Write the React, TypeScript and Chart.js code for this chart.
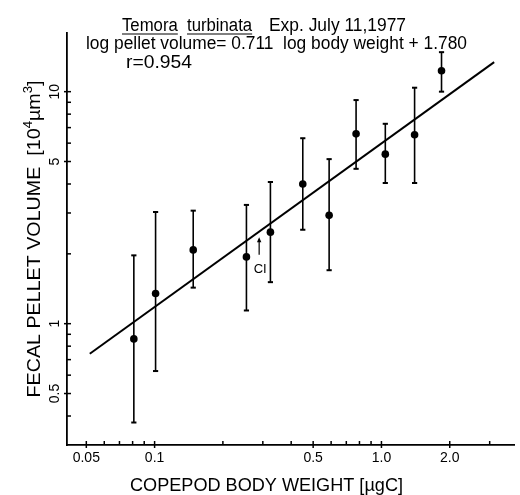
import React, { useEffect, useRef } from 'react';
import { Chart, registerables } from 'chart.js';

Chart.register(...registerables);

// ---- data ----
const bodyWeight = [0.081, 0.101, 0.148, 0.254, 0.324, 0.45, 0.588, 0.773, 1.04, 1.4, 1.84];
const pelletVolume = [0.86, 1.35, 2.08, 1.94, 2.48, 4.0, 2.93, 6.58, 5.38, 6.52, 12.3];
const volumeLow = [0.375, 0.625, 1.43, 1.14, 1.51, 2.54, 1.7, 4.65, 4.04, 4.04, 10.0];
const volumeHigh = [1.97, 3.03, 3.07, 3.25, 4.08, 6.3, 5.12, 9.2, 7.27, 10.4, 14.8];
const fitWeight = [0.0518, 3.14];
const fitVolume = [0.742, 13.4];

const xTickValues = [0.05, 0.06, 0.07, 0.08, 0.09, 0.1, 0.2, 0.3, 0.4, 0.5, 0.6, 0.7, 0.8, 0.9, 1, 2, 3];
const xTickLabels = ['0.05', '', '', '', '', '0.1', '', '', '', '0.5', '', '', '', '', '1.0', '2.0', ''];
const yTickValues = [0.4, 0.5, 0.6, 0.7, 0.8, 0.9, 1, 2, 3, 4, 5, 6, 7, 8, 9, 10];
const yTickLabels = ['', '0.5', '', '', '', '', '1', '', '', '', '5', '', '', '', '', '10'];

const xRange = [0.0411, 3.84];
const yRange = [0.3162, 17.9];

const titleSpecies = ['Temora', 'turbinata'];
const titleRest = 'Exp. July 11,1977';
const equationText = 'log pellet volume= 0.711  log body weight + 1.780';
const rText = 'r=0.954';
const xTitle = 'COPEPOD BODY WEIGHT [\u00b5gC]';
const ciLabel = 'CI';
const ciArrow = { x: 0.289, from: 1.98, to: 2.36, textY: 1.72 };

const FONT = '"Liberation Sans", Arial, sans-serif';

function fitText(ctx: CanvasRenderingContext2D, text: string, x: number, y: number, size: number, width: number) {
  ctx.save();
  ctx.font = `${size}px ${FONT}`;
  const w = ctx.measureText(text).width;
  ctx.translate(x, y);
  ctx.scale(width / w, 1);
  ctx.textAlign = 'left';
  ctx.textBaseline = 'alphabetic';
  ctx.fillText(text, 0, 0);
  ctx.restore();
}

const decorPlugin = {
  id: 'decor',
  afterDraw(chart: any) {
    const ctx: CanvasRenderingContext2D = chart.ctx;
    const xs = chart.scales.x;
    const ys = chart.scales.y;
    const area = chart.chartArea;
    ctx.save();
    ctx.fillStyle = '#000';
    ctx.strokeStyle = '#000';

    // inward tick marks
    ctx.lineWidth = 1.5;
    xTickValues.forEach((v, i) => {
      const px = xs.getPixelForValue(v);
      const major = xTickLabels[i] !== '';
      ctx.beginPath();
      ctx.moveTo(px, area.bottom - 4);
      ctx.lineTo(px, area.bottom + (major ? 3 : 0));
      ctx.stroke();
    });
    yTickValues.forEach((v, i) => {
      const py = ys.getPixelForValue(v);
      const major = yTickLabels[i] !== '';
      ctx.beginPath();
      ctx.moveTo(area.left - (major ? 3 : 0), py);
      ctx.lineTo(area.left + 4, py);
      ctx.stroke();
    });

    // rotated y tick labels
    ctx.font = `14px ${FONT}`;
    yTickValues.forEach((v, i) => {
      const label = yTickLabels[i];
      if (!label) return;
      const py = ys.getPixelForValue(v);
      ctx.save();
      ctx.translate(area.left - 8, py);
      ctx.rotate(-Math.PI / 2);
      ctx.textAlign = 'center';
      ctx.textBaseline = 'alphabetic';
      ctx.fillText(label, 0, 0);
      ctx.restore();
    });

    // y axis title with superscripts
    {
      const runs: Array<[string, number, number]> = [
        ['FECAL PELLET VOLUME  [10', 18, 0],
        ['4', 12, -8],
        ['\u00b5m', 18, 0],
        ['3', 12, -8],
        [']', 18, 0],
      ];
      let total = 0;
      const widths = runs.map(([t, s]) => {
        ctx.font = `${s}px ${FONT}`;
        const w = ctx.measureText(t).width;
        total += w;
        return w;
      });
      const target = 317;
      const k = target / total;
      const cy = (area.top + area.bottom) / 2;
      ctx.save();
      ctx.translate(40, cy);
      ctx.rotate(-Math.PI / 2);
      ctx.scale(k, 1);
      let pos = -total / 2;
      runs.forEach(([t, s, dy], i) => {
        ctx.font = `${s}px ${FONT}`;
        ctx.textAlign = 'left';
        ctx.textBaseline = 'alphabetic';
        ctx.fillText(t, pos, dy);
        pos += widths[i];
      });
      ctx.restore();
    }

    // x axis title
    fitText(ctx, xTitle, 130, 491, 18, 273);

    // header text
    const speciesX = [122, 187];
    ctx.lineWidth = 1.2;
    titleSpecies.forEach((t, i) => {
      ctx.font = `18px ${FONT}`;
      const w = ctx.measureText(t).width * 0.93;
      fitText(ctx, t, speciesX[i], 31, 18, w);
      ctx.beginPath();
      ctx.moveTo(speciesX[i], 34);
      ctx.lineTo(speciesX[i] + w, 34);
      ctx.stroke();
    });
    fitText(ctx, titleRest, 269, 31, 18, 137);
    fitText(ctx, equationText, 86, 49, 18, 381);
    fitText(ctx, rText, 126, 68, 18, 66);

    // CI arrow
    const ax = xs.getPixelForValue(ciArrow.x);
    const a0 = ys.getPixelForValue(ciArrow.from);
    const a1 = ys.getPixelForValue(ciArrow.to);
    ctx.lineWidth = 1.2;
    ctx.beginPath();
    ctx.moveTo(ax, a0);
    ctx.lineTo(ax, a1 + 2);
    ctx.stroke();
    ctx.beginPath();
    ctx.moveTo(ax, a1);
    ctx.lineTo(ax - 2.2, a1 + 5);
    ctx.lineTo(ax + 2.2, a1 + 5);
    ctx.closePath();
    ctx.fill();
    ctx.font = `13px ${FONT}`;
    ctx.textAlign = 'center';
    ctx.textBaseline = 'middle';
    ctx.fillText(ciLabel, ax + 1, ys.getPixelForValue(ciArrow.textY));

    ctx.restore();
  },
};

export default function App() {
  const ref = useRef<HTMLCanvasElement | null>(null);

  useEffect(() => {
    if (!ref.current) return;
    const datasets: any[] = [
      {
        label: 'points',
        data: bodyWeight.map((x, i) => ({ x, y: pelletVolume[i] })),
        showLine: false,
        pointRadius: 3.8,
        pointBackgroundColor: '#000',
        pointBorderColor: '#000',
        pointBorderWidth: 0,
      },
      {
        label: 'fit',
        data: fitWeight.map((x, i) => ({ x, y: fitVolume[i] })),
        showLine: true,
        borderColor: '#000',
        borderWidth: 2,
        pointRadius: 0,
      },
      ...bodyWeight.map((x, i) => ({
        label: 'err' + i,
        data: [
          { x, y: volumeLow[i] },
          { x, y: volumeHigh[i] },
        ],
        showLine: true,
        borderColor: '#000',
        borderWidth: 1.6,
        pointStyle: 'line',
        pointRadius: 2.6,
        pointBorderWidth: 2,
        pointBorderColor: '#000',
        pointBackgroundColor: '#000',
      })),
    ];

    const chart = new Chart(ref.current, {
      type: 'scatter',
      data: { datasets },
      options: {
        animation: false,
        responsive: false,
        devicePixelRatio: 1,
        layout: { padding: { top: 33, left: 0, right: 0, bottom: 0 } },
        plugins: { legend: { display: false }, tooltip: { enabled: false } },
        events: [],
        scales: {
          x: {
            type: 'logarithmic',
            min: xRange[0],
            max: xRange[1],
            grid: { display: true, drawOnChartArea: false, drawTicks: false },
            border: { display: true, color: '#000', width: 1.8 },
            afterBuildTicks: (s: any) => {
              s.ticks = xTickValues.map((v) => ({ value: v }));
            },
            afterFit: (s: any) => {
              s.height = 50;
            },
            ticks: {
              autoSkip: false,
              maxRotation: 0,
              minRotation: 0,
              padding: 5,
              color: '#000',
              font: { family: FONT, size: 14 },
              callback: (_v: any, i: number) => xTickLabels[i] ?? '',
            },
          },
          y: {
            type: 'logarithmic',
            min: yRange[0],
            max: yRange[1],
            grid: { display: true, drawOnChartArea: false, drawTicks: false },
            border: { display: true, color: '#000', width: 1.8 },
            afterBuildTicks: (s: any) => {
              s.ticks = yTickValues.map((v) => ({ value: v }));
            },
            afterFit: (s: any) => {
              s.width = 67;
            },
            ticks: { display: false },
          },
        },
      } as any,
      plugins: [decorPlugin],
    });
    return () => chart.destroy();
  }, []);

  return (
    <div style={{ position: 'absolute', left: 0, top: 0, width: 520, height: 495, background: '#fff' }}>
      <canvas ref={ref} width={520} height={495} style={{ display: 'block' }} />
    </div>
  );
}
